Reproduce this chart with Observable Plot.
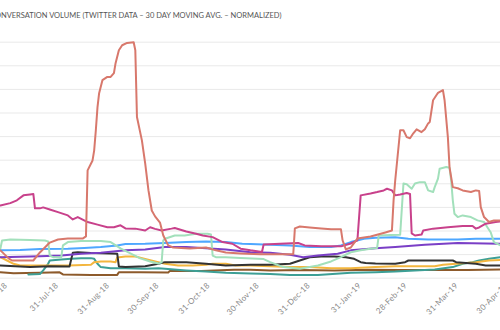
<!DOCTYPE html>
<html>
<head>
<meta charset="utf-8">
<script src="https://cdn.jsdelivr.net/npm/d3@7"></script>
<script src="https://cdn.jsdelivr.net/npm/@observablehq/plot@0.6"></script>
<style>
  html, body { margin: 0; padding: 0; background: #fff; overflow: hidden; width: 500px; height: 330px; }
  #wrap { position: relative; width: 500px; height: 330px; overflow: hidden; }
  #title { position: relative; height: 30px; white-space: nowrap; font-family: Lato, "Open Sans", sans-serif;
           font-size: 7.5px; letter-spacing: 0px; color: #555; line-height: 32px; margin-left: -10px; }
  #chart { position: relative; width: 540px; height: 300px; }
  #chart g[aria-label="x-axis tick label"] text { letter-spacing: 0.3px; }
</style>
</head>
<body>
<div id="wrap">
  <div id="title">CONVERSATION VOLUME (TWITTER DATA – 30 DAY MOVING AVG. – NORMALIZED)</div>
  <div id="chart"></div>
</div>
<script>
// Tick labels (month ends) and gridline values
const tickDates = ["2018-06-30","2018-07-31","2018-08-31","2018-09-30","2018-10-31","2018-11-30","2018-12-31","2019-01-31","2019-02-28","2019-03-31","2019-04-30"];
const gridValues = [0,10,20,30,40,50,60,70,80,90,100];

// Series values [date, normalized volume]
const salmon = [["2018-06-26",11.8],["2018-07-01",8.4],["2018-07-03",7.5],["2018-07-16",7.5],["2018-07-20",10.9],["2018-07-26",15.1],["2018-07-31",16.4],["2018-08-06",16.8],["2018-08-15",16.8],["2018-08-17",17.7],["2018-08-18",45.7],["2018-08-21",49.9],["2018-08-22",54.2],["2018-08-23",62.7],["2018-08-24",72.4],["2018-08-25",78.4],["2018-08-27",83.9],["2018-08-30",85.3],["2018-09-01",85.3],["2018-09-03",86.9],["2018-09-04",91.1],["2018-09-06",96.6],["2018-09-08",98.7],["2018-09-11",99.7],["2018-09-15",100],["2018-09-16",96.6],["2018-09-17",68.3],["2018-09-20",58.4],["2018-09-22",48.7],["2018-09-24",37.2],["2018-09-26",28.7],["2018-09-28",26.2],["2018-10-01",23.6],["2018-10-03",18.1],["2018-10-06",13.9],["2018-10-09",13.0],["2018-10-19",12.6],["2018-10-29",13.0],["2018-11-04",11.8],["2018-11-10",10.9],["2018-11-19",10.5],["2018-12-01",10.1],["2018-12-13",10.1],["2018-12-21",10.1],["2018-12-22",21.1],["2018-12-25",21.9],["2018-12-31",21.5],["2019-01-07",21.1],["2019-01-13",20.7],["2019-01-19",20.7],["2019-01-20",16.0],["2019-01-22",12.2],["2019-01-25",13.0],["2019-01-29",16.8],["2019-02-06",17.7],["2019-02-15",19.4],["2019-02-19",20.2],["2019-02-20",33.0],["2019-02-21",41.5],["2019-02-24",62.7],["2019-02-26",62.7],["2019-02-28",59.8],["2019-03-02",59.3],["2019-03-04",61.4],["2019-03-06",63.1],["2019-03-09",61.9],["2019-03-11",63.1],["2019-03-13",65.6],["2019-03-14",66.2],["2019-03-16",75.4],["2019-03-18",77.5],["2019-03-19",78.5],["2019-03-22",79.7],["2019-03-23",75.4],["2019-03-25",59.8],["2019-03-26",47.1],["2019-03-28",38.6],["2019-03-31",38.1],["2019-04-03",37.2],["2019-04-08",36.5],["2019-04-11",37.2],["2019-04-13",37.0],["2019-04-14",30.1],["2019-04-16",25.9],["2019-04-19",23.8],["2019-04-22",24.5],["2019-04-26",24.5],["2019-05-02",24.9]];
const magenta = [["2018-06-26",30.8],["2018-07-02",31.8],["2018-07-06",33.0],["2018-07-10",35.1],["2018-07-14",35.5],["2018-07-16",35.7],["2018-07-17",29.6],["2018-07-20",29.6],["2018-07-22",30.0],["2018-07-26",29.1],["2018-07-31",28.0],["2018-08-06",26.6],["2018-08-09",24.9],["2018-08-12",25.9],["2018-08-18",23.8],["2018-08-24",22.7],["2018-08-30",21.6],["2018-09-03",21.6],["2018-09-07",22.4],["2018-09-10",21.1],["2018-09-16",21.0],["2018-09-22",20.2],["2018-09-25",21.6],["2018-09-28",20.9],["2018-10-02",20.2],["2018-10-08",21.0],["2018-10-10",21.3],["2018-10-17",19.8],["2018-10-23",18.8],["2018-10-27",18.1],["2018-11-02",17.4],["2018-11-08",15.3],["2018-11-14",14.6],["2018-11-19",12.5],["2018-11-25",11.8],["2018-12-02",11.1],["2018-12-03",14.3],["2018-12-13",14.6],["2018-12-24",14.9],["2018-12-28",13.9],["2019-01-07",13.5],["2019-01-19",13.5],["2019-01-25",14.7],["2019-01-29",16.0],["2019-01-31",35.1],["2019-02-06",35.9],["2019-02-10",36.5],["2019-02-14",37.2],["2019-02-16",37.9],["2019-02-19",37.2],["2019-02-21",35.1],["2019-02-24",35.5],["2019-02-28",36.1],["2019-03-02",35.7],["2019-03-03",19.0],["2019-03-05",18.1],["2019-03-09",18.5],["2019-03-10",20.2],["2019-03-16",21.0],["2019-03-25",21.6],["2019-04-03",22.1],["2019-04-09",22.1],["2019-04-11",21.0],["2019-04-13",21.5],["2019-04-17",23.1],["2019-04-23",23.8],["2019-04-26",24.1],["2019-05-02",24.5]];
const mint = [["2018-06-26",12.6],["2018-06-27",16.0],["2018-07-02",16.4],["2018-07-14",16.2],["2018-07-23",16.0],["2018-07-25",15.6],["2018-07-26",9.6],["2018-07-28",8.9],["2018-08-02",8.9],["2018-08-03",13.9],["2018-08-06",15.3],["2018-08-14",15.8],["2018-08-26",15.8],["2018-09-01",15.3],["2018-09-07",12.6],["2018-09-13",10.5],["2018-09-19",8.4],["2018-09-25",7.1],["2018-09-30",6.2],["2018-10-02",6.7],["2018-10-03",16.0],["2018-10-04",16.7],["2018-10-10",18.1],["2018-10-16",18.1],["2018-10-23",18.8],["2018-10-30",18.8],["2018-11-01",18.5],["2018-11-02",9.6],["2018-11-04",8.9],["2018-11-10",8.9],["2018-11-19",8.6],["2018-12-03",8.1],["2018-12-07",6.8],["2018-12-15",4.7],["2018-12-25",4.0],["2019-01-05",5.4],["2019-01-13",7.1],["2019-01-19",8.9],["2019-01-25",11.0],["2019-01-31",11.8],["2019-02-07",12.6],["2019-02-10",12.8],["2019-02-11",18.1],["2019-02-18",18.3],["2019-02-24",18.4],["2019-02-26",40.1],["2019-02-28",39.8],["2019-03-02",38.5],["2019-03-03",37.9],["2019-03-05",40.1],["2019-03-08",40.7],["2019-03-11",40.7],["2019-03-13",37.2],["2019-03-16",36.5],["2019-03-17",38.6],["2019-03-19",42.2],["2019-03-20",46.4],["2019-03-24",47.1],["2019-03-26",46.8],["2019-03-27",41.5],["2019-03-28",33.0],["2019-03-29",27.3],["2019-03-31",25.9],["2019-04-03",26.6],["2019-04-08",25.9],["2019-04-12",24.5],["2019-04-16",23.8],["2019-04-18",21.6],["2019-04-20",19.5],["2019-04-22",15.3],["2019-04-26",13.9],["2019-05-02",13.0]];
const blue = [["2018-06-26",11.8],["2018-07-08",12.0],["2018-07-20",12.4],["2018-08-06",12.5],["2018-08-16",12.8],["2018-08-26",13.2],["2018-09-05",13.9],["2018-09-10",14.5],["2018-09-22",14.6],["2018-10-04",14.9],["2018-10-17",15.3],["2018-10-29",15.6],["2018-11-10",15.3],["2018-11-20",14.6],["2018-11-25",14.5],["2018-12-07",14.2],["2018-12-19",13.9],["2018-12-31",13.2],["2019-01-13",13.2],["2019-01-19",13.9],["2019-01-25",15.3],["2019-02-02",16.7],["2019-02-09",17.1],["2019-02-21",17.4],["2019-03-01",16.7],["2019-03-13",16.4],["2019-03-31",16.4],["2019-04-11",16.7],["2019-04-26",16.7],["2019-05-02",16.8]];
const purple = [["2018-06-26",8.9],["2018-07-08",9.1],["2018-07-20",9.3],["2018-08-02",9.6],["2018-08-14",10.4],["2018-08-26",10.8],["2018-09-10",11.8],["2018-09-22",12.2],["2018-10-04",13.2],["2018-10-17",13.2],["2018-10-29",12.7],["2018-11-10",12.2],["2018-11-25",11.0],["2018-12-07",10.8],["2018-12-19",9.9],["2018-12-27",8.9],["2019-01-05",9.6],["2019-01-17",10.4],["2019-01-25",11.8],["2019-02-09",12.7],["2019-02-21",13.2],["2019-03-11",14.2],["2019-03-31",14.9],["2019-04-26",14.6],["2019-05-02",14.5]];
const black = [["2018-06-26",5.4],["2018-07-02",5.2],["2018-07-14",4.7],["2018-07-26",5.1],["2018-08-07",5.0],["2018-08-09",10.8],["2018-08-12",11.0],["2018-08-20",10.7],["2018-09-01",10.5],["2018-09-05",10.4],["2018-09-06",5.0],["2018-09-10",4.7],["2018-09-22",5.1],["2018-09-30",6.1],["2018-10-04",6.8],["2018-10-17",6.8],["2018-10-29",6.1],["2018-11-10",5.4],["2018-11-25",5.7],["2018-12-07",5.7],["2018-12-19",6.1],["2018-12-25",7.5],["2018-12-31",8.9],["2019-01-07",9.2],["2019-01-15",9.2],["2019-01-22",8.9],["2019-01-27",8.2],["2019-01-31",6.8],["2019-02-03",6.4],["2019-02-09",6.2],["2019-02-21",6.1],["2019-02-27",6.8],["2019-03-01",7.5],["2019-03-11",7.5],["2019-03-28",7.5],["2019-03-30",6.8],["2019-04-11",6.1],["2019-04-17",5.4],["2019-04-26",5.4],["2019-05-02",5.2]];
const yellow = [["2018-06-26",8.9],["2018-06-30",7.5],["2018-07-04",6.1],["2018-07-08",5.4],["2018-08-06",5.4],["2018-08-20",5.7],["2018-08-22",6.8],["2018-08-26",7.1],["2018-09-01",7.1],["2018-09-04",6.8],["2018-09-05",8.8],["2018-09-10",9.2],["2018-09-16",9.2],["2018-09-22",8.2],["2018-09-30",6.8],["2018-10-04",6.1],["2018-10-12",5.4],["2018-10-21",5.4],["2018-10-29",5.7],["2018-11-02",6.1],["2018-11-10",6.1],["2018-11-16",5.4],["2018-11-25",5.4],["2018-12-07",5.1],["2018-12-19",4.7],["2018-12-31",4.7],["2019-01-13",4.2],["2019-01-25",4.2],["2019-02-09",4.7],["2019-02-21",5.1],["2019-03-17",5.1],["2019-03-22",5.7],["2019-03-30",6.1],["2019-04-11",6.8],["2019-04-19",7.5],["2019-04-26",7.7],["2019-05-02",7.9]];
const teal = [["2018-07-13",1.6],["2018-07-20",1.8],["2018-07-22",3.3],["2018-07-25",6.1],["2018-07-26",7.5],["2018-08-02",7.9],["2018-08-08",8.2],["2018-08-14",8.5],["2018-08-20",8.5],["2018-08-22",8.2],["2018-08-24",6.1],["2018-08-26",4.7],["2018-09-01",4.2],["2018-09-10",4.2],["2018-09-22",4.0],["2018-09-30",4.2],["2018-10-04",4.0],["2018-10-17",3.3],["2018-10-29",2.8],["2018-11-10",2.3],["2018-11-25",2.0],["2018-12-07",1.8],["2018-12-19",1.4],["2019-01-05",1.4],["2019-01-25",2.3],["2019-02-09",2.5],["2019-02-21",2.8],["2019-03-05",3.3],["2019-03-17",3.7],["2019-03-28",4.7],["2019-04-03",6.1],["2019-04-09",6.8],["2019-04-13",7.5],["2019-04-19",8.2],["2019-04-26",8.9],["2019-05-02",9.4]];
const brown = [["2018-06-26",2.5],["2018-07-04",2.1],["2018-07-20",2.3],["2018-08-01",2.5],["2018-08-03",1.6],["2018-08-20",1.4],["2018-09-05",1.4],["2018-09-06",2.5],["2018-09-19",2.5],["2018-10-06",2.4],["2018-10-07",3.1],["2018-10-26",3.1],["2018-11-15",3.6],["2018-11-25",3.6],["2018-12-07",3.3],["2018-12-25",3.5],["2019-01-15",3.3],["2019-02-04",3.6],["2019-02-24",3.5],["2019-03-16",3.5],["2019-04-06",3.5],["2019-04-26",3.7],["2019-05-02",3.7]];

const seriesNames = ["brown","teal","yellow","black","purple","blue","mint","magenta","salmon"];
const seriesColors = ["#8d5a2b","#3d9f95","#f3b63f","#333333","#7a3fc6","#4ea7ff","#a2e0bb","#c8418b","#d8786c"];
const seriesData = [brown, teal, yellow, black, purple, blue, mint, magenta, salmon];

const rows = seriesNames.flatMap((name, i) =>
  seriesData[i].map(([d, v]) => ({series: name, date: new Date(d + "T00:00Z"), value: v})));

const chart = Plot.plot({
  width: 540,
  height: 300,
  marginTop: 11.7,
  marginBottom: 52.3,
  marginLeft: 0,
  marginRight: 0,
  style: {fontFamily: "Lato, 'Open Sans', sans-serif", background: "#fff", overflow: "visible"},
  x: {type: "utc", domain: [new Date("2018-06-26T01:06Z"), new Date("2019-05-20T07:26Z")]},
  y: {domain: [0, 100], axis: null},
  color: {domain: seriesNames, range: seriesColors},
  marks: [
    Plot.gridY(gridValues, {stroke: "#e9e9e9", strokeOpacity: 1}),
    Plot.axisX(tickDates.map(d => new Date(d + "T00:00Z")), {
      tickFormat: d3.utcFormat("%d-%b-%y"),
      tickRotate: -45, tickSize: 0, tickPadding: 6, dx: -1,
      fontSize: 8, fill: "#8a8a8a", label: null
    }),
    Plot.line(rows, {x: "date", y: "value", z: "series", stroke: "series",
      strokeWidth: 2, strokeLinejoin: "round", strokeLinecap: "round"})
  ]
});
document.getElementById("chart").appendChild(chart);
</script>
</body>
</html>
